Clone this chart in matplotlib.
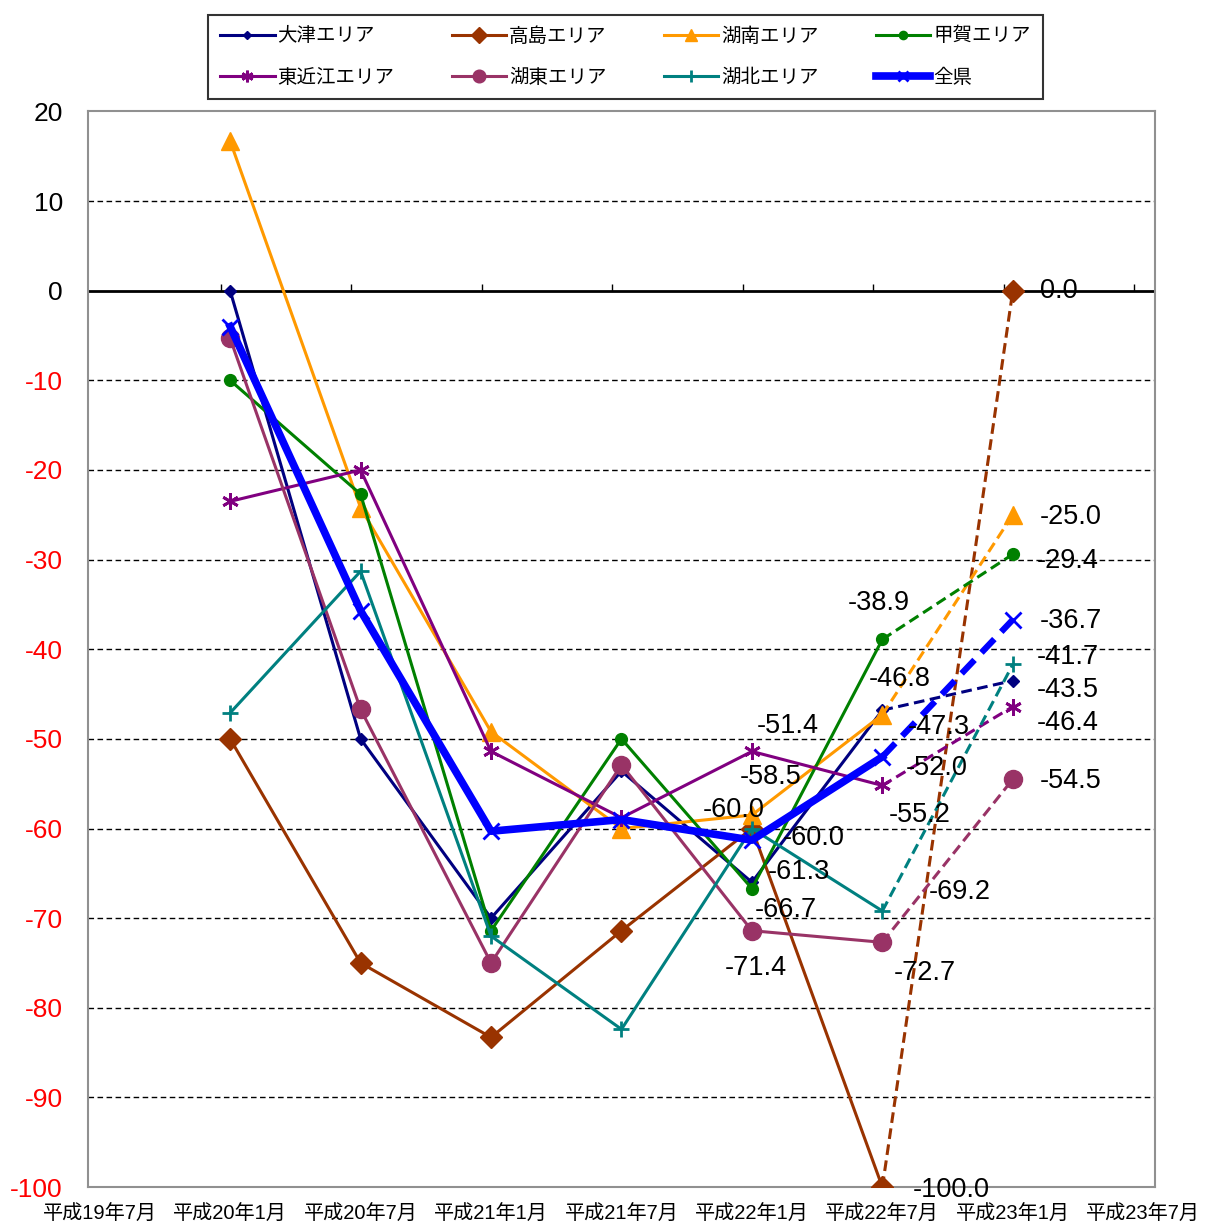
import matplotlib
matplotlib.use("Agg")
import matplotlib.pyplot as plt
import numpy as np

plt.rcParams['font.family'] = ['Liberation Sans', 'Noto Sans CJK JP']

# 期間（横軸）
kikan = ["平成19年7月", "平成20年1月", "平成20年7月", "平成21年1月", "平成21年7月",
         "平成22年1月", "平成22年7月", "平成23年1月", "平成23年7月"]
x_data = np.arange(1, 8)

# 各エリアのDI値
otsu = [0.0, -50.0, -70.0, -53.6, -66.0, -46.8, -43.5]
takashima = [-50.0, -75.0, -83.3, -71.4, -60.0, -100.0, 0.0]
konan = [16.7, -24.2, -49.2, -60.0, -58.5, -47.3, -25.0]
koka = [-10.0, -22.7, -71.4, -50.0, -66.7, -38.9, -29.4]
higashiomi = [-23.5, -20.0, -51.4, -58.8, -51.4, -55.2, -46.4]
koto = [-5.3, -46.7, -75.0, -52.9, -71.4, -72.7, -54.5]
kohoku = [-47.1, -31.3, -72.0, -82.4, -60.0, -69.2, -41.7]
zenken = [-4.0, -35.7, -60.3, -59.0, -61.3, -52.0, -36.7]

names = ["大津エリア", "高島エリア", "湖南エリア", "甲賀エリア",
         "東近江エリア", "湖東エリア", "湖北エリア", "全県"]
series = [otsu, takashima, konan, koka, higashiomi, koto, kohoku, zenken]

# 見た目
styles = [
    dict(color="#000080", marker="D", ms=6, lw=2.2),
    dict(color="#993300", marker="D", ms=11, lw=2.2),
    dict(color="#FF9900", marker="^", ms=13, lw=2.2),
    dict(color="#008000", marker="o", ms=8.5, lw=2.2),
    dict(color="#800080", marker=(6, 2, 0), ms=12, lw=2.2),
    dict(color="#993366", marker="o", ms=13, lw=2.2),
    dict(color="#008080", marker="+", ms=12, lw=2.2),
    dict(color="#0000FF", marker="x", ms=11, lw=5.5),
]

# データラベル: {系列番号: [(点の番号, dx, dy), ...]}（ピクセル）
label_pos = {
    0: [(5, -14, 31), (6, 24, -9)],
    1: [(4, -49, 19), (5, 30, -3), (6, 27, 0)],
    2: [(4, -12, 38), (5, 25, -12), (6, 27, -2)],
    3: [(4, 3, -21), (5, -35, 36), (6, 24, -7)],
    4: [(4, 5, 25), (5, 6, -30), (6, 24, -16)],
    5: [(4, -27, -37), (5, 11, -31), (6, 27, -2)],
    6: [(4, 31, -9), (5, 46, 19), (6, 24, 7)],
    7: [(4, 16, -32), (5, 23, -11), (6, 27, -1)],
}

fig = plt.figure(figsize=(12.05, 12.25), dpi=100)
ax = fig.add_axes([0.073, 0.031, 0.8855, 0.878])

handles = []
for i, (vals, st) in enumerate(zip(series, styles)):
    mew = 2 if st["marker"] in ("+", "x") or isinstance(st["marker"], tuple) else 1
    h, = ax.plot(x_data[:6], vals[:6], color=st["color"], lw=st["lw"],
                 marker=st["marker"], ms=st["ms"], mew=mew, zorder=3 + (i == 7),
                 label=names[i])
    handles.append(h)
    dash = (3, 1.6) if i == 7 else (3.5, 1.8)
    ax.plot(x_data[5:], vals[5:], color=st["color"], lw=st["lw"] if i != 7 else 4.5,
            ls="--", dashes=dash, marker=st["marker"], ms=st["ms"], mew=mew,
            markevery=[1], zorder=3 + (i == 7))
    for (k, dx, dy) in label_pos[i]:
        ax.annotate(f"{vals[k]:.1f}", (x_data[k], vals[k]), xytext=(dx, dy),
                    textcoords="offset pixels", ha="left", va="center",
                    fontsize=19.5, zorder=6)

# 軸
ax.set_xlim(-0.09, 8.09)
ax.set_ylim(-100, 20)
ax.set_yticks(np.arange(-100, 21, 10))
ax.set_yticklabels([str(v) for v in range(-100, 21, 10)])
for lab, v in zip(ax.get_yticklabels(), range(-100, 21, 10)):
    lab.set_color("red" if v < 0 else "black")
ax.tick_params(axis="y", length=0, labelsize=19, pad=18)
ax.set_xticks(range(len(kikan)))
ax.set_xticklabels(kikan)
ax.tick_params(axis="x", length=0, labelsize=14.5, pad=13)

for v in range(-90, 20, 10):
    if v != 0:
        ax.axhline(v, color="black", lw=1, ls="--", dashes=(4, 2.5), zorder=1)
ax.axhline(0, color="black", lw=2, zorder=2)
ax.vlines(np.arange(1, 9) - 0.07, 0, 0.8, colors="black", lw=1, zorder=2)

for sp in ax.spines.values():
    sp.set_color("#909090")
    sp.set_linewidth(1.5)

order = [0, 4, 1, 5, 2, 6, 3, 7]
leg = fig.legend([handles[j] for j in order], [names[j] for j in order],
                 ncol=4, loc="center", mode="expand",
                 bbox_to_anchor=(0.1726, 0.919, 0.693, 0.069),
                 fontsize=14, frameon=True, fancybox=False, handlelength=2.8,
                 borderaxespad=0, columnspacing=1.0, handletextpad=0.15,
                 labelspacing=1.2, borderpad=0.63, markerscale=0.7)
leg.get_frame().set_edgecolor("black")
leg.get_frame().set_linewidth(1.5)

plt.savefig("out.png", dpi=100)
plt.close()
